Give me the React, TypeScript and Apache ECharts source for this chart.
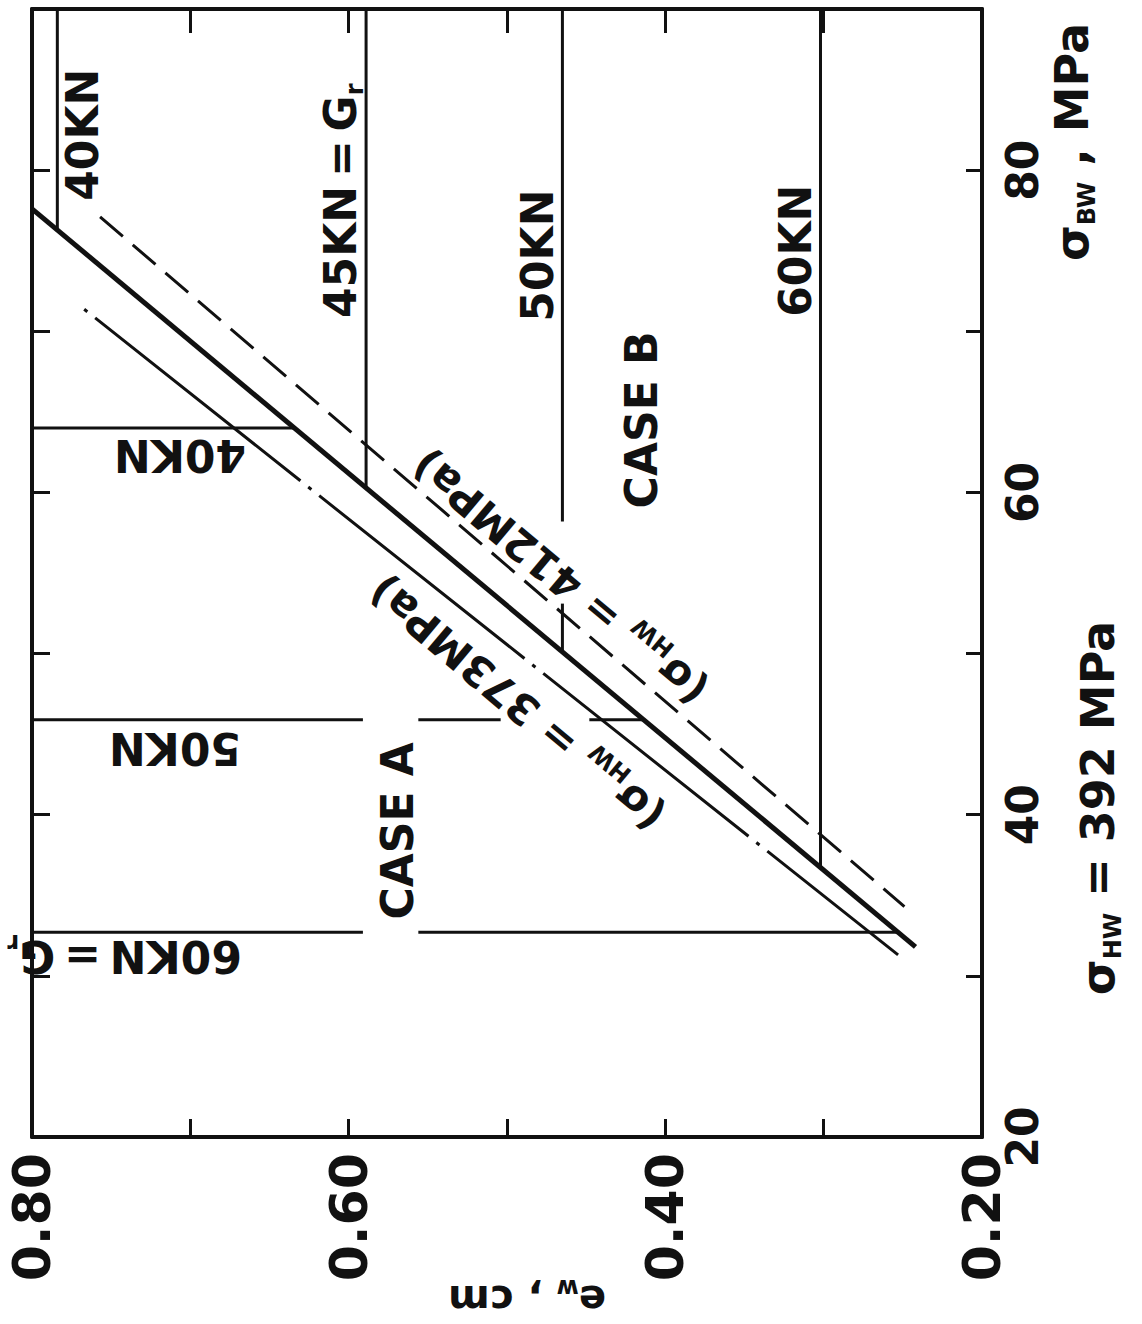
import React, { useEffect, useRef } from 'react';
import * as echarts from 'echarts';

// Axis ranges
const ewRange = [0.2, 0.8]; // e_w, cm (horizontal, decreasing to the right)
const sigmaRange = [20, 90]; // σBW, MPa (vertical)

// Inclined limit lines: [e_w, σBW]
const line392 = [[0.80, 77.6], [0.242, 31.8]];
const line412 = [[0.757, 77.1], [0.249, 34.3]];
const line373 = [[0.770, 71.6], [0.253, 31.3]];

// CASE B load lines (constant e_w)
const caseB40 = [[0.784, 90], [0.784, 76.3]];
const caseB45 = [[0.589, 90], [0.589, 60.3]];
const caseB50a = [[0.465, 90], [0.465, 58.2]];
const caseB50b = [[0.465, 53.1], [0.465, 50.1]];
const caseB60 = [[0.302, 90], [0.302, 36.8]];

// CASE A load lines (constant σBW)
const caseA40 = [[0.80, 64.0], [0.635, 64.0]];
const caseA50a = [[0.80, 45.9], [0.591, 45.9]];
const caseA50b = [[0.556, 45.9], [0.504, 45.9]];
const caseA50c = [[0.448, 45.9], [0.414, 45.9]];
const caseA60a = [[0.80, 32.7], [0.591, 32.7]];
const caseA60b = [[0.556, 32.7], [0.253, 32.7]];

// Annotations
const annotationTexts = [
  '40KN', '45KN\u2009=\u2009G{s|r}', '50KN', '60KN', 'CASE B', 'CASE A',
  '40KN', '50KN', '60KN\u2009=\u2009G{s|r}', '(σ{s|HW} = 412MPa)', '(σ{s|HW} = 373MPa)',
];
const annotationEw = [0.768, 0.605, 0.481, 0.318, 0.415, 0.569, 0.7065, 0.7097, 0.7415, 0.4665, 0.4936];
const annotationSigma = [82.2, 78.1, 74.7, 75.0, 64.5, 39.0, 62.3, 44.1, 31.2, 54.7, 46.9];
const annotationAngle = [90, 90, 90, 90, 90, 90, 180, 180, 180, 140, 140];

const INK = '#111';
const FONT = 'DejaVu Sans';

export default function App() {
  const ref = useRef<HTMLDivElement>(null);
  useEffect(() => {
    if (!ref.current) return;
    const chart = echarts.init(ref.current, undefined, { renderer: 'svg' });

    const seg = (data: number[][], width = 3) => ({
      type: 'line', data, symbol: 'none', silent: true,
      xAxisIndex: 0, yAxisIndex: 0,
      lineStyle: { color: INK, width, type: 'solid' },
    });

    const subRich = { s: { fontSize: 24, fontWeight: 'bold', fontFamily: FONT, color: INK, fill: INK, verticalAlign: 'bottom' } };

    const xLabelFmt = (v: number) => {
      const k = Math.round(v * 10);
      return k % 2 === 0 ? (k / 10).toFixed(2) : '';
    };
    const yLabelFmt = (v: number) => (Math.round(v) % 20 === 0 && v <= 80 ? String(Math.round(v)) : '');

    const axisLine = () => ({ show: true, onZero: false, lineStyle: { color: INK, width: 4 } });
    const tick = (length: number) => ({ show: true, inside: true, length, lineStyle: { color: INK, width: 3 } });

    const option: any = {
      animation: false,
      backgroundColor: '#fff',
      grid: { left: 32, top: 9, width: 950, height: 1128, outerBoundsMode: 'none' },
      xAxis: [
        {
          type: 'value', position: 'bottom', min: ewRange[0], max: ewRange[1], interval: 0.1, inverse: true,
          axisLine: axisLine(), splitLine: { show: false }, axisTick: tick(18),
          axisLabel: { rotate: 90, margin: 16, fontSize: 52, fontWeight: 'bold', fontFamily: FONT, color: INK, formatter: xLabelFmt },
        },
        {
          type: 'value', position: 'top', min: ewRange[0], max: ewRange[1], interval: 0.1, inverse: true,
          axisLine: axisLine(), splitLine: { show: false }, axisTick: tick(24), axisLabel: { show: false },
        },
      ],
      yAxis: [
        {
          type: 'value', position: 'right', min: sigmaRange[0], max: sigmaRange[1], interval: 10,
          axisLine: axisLine(), splitLine: { show: false }, axisTick: tick(16),
          axisLabel: { rotate: 90, margin: 18, fontSize: 44, fontWeight: 'bold', fontFamily: FONT, color: INK, formatter: yLabelFmt },
        },
        {
          type: 'value', position: 'left', min: sigmaRange[0], max: sigmaRange[1], interval: 10,
          axisLine: axisLine(), splitLine: { show: false }, axisTick: tick(18), axisLabel: { show: false },
        },
      ],
      series: [
        { ...seg(line392, 5) },
        {
          // drawn on the top/left frame axes (same ranges as the bottom/right axes)
          type: 'line', data: line412, symbol: 'none', silent: true, xAxisIndex: 1, yAxisIndex: 1,
          lineStyle: { color: INK, width: 3, type: [30, 13] },
        },
        {
          type: 'line', data: line373, symbol: 'none', silent: true, xAxisIndex: 0, yAxisIndex: 0,
          lineStyle: { color: INK, width: 3, type: [262, 10, 4, 10], dashOffset: 266 },
        },
        seg(caseB40), seg(caseB45), seg(caseB50a), seg(caseB50b), seg(caseB60),
        seg(caseA40), seg(caseA50a), seg(caseA50b), seg(caseA50c), seg(caseA60a), seg(caseA60b),
        {
          type: 'scatter', silent: true, xAxisIndex: 0, yAxisIndex: 0,
          symbolSize: 1, itemStyle: { color: 'rgba(0,0,0,0)', opacity: 1 },
          data: annotationTexts.map((t, i) => ({
            name: t,
            value: [annotationEw[i], annotationSigma[i]],
            label: { rotate: annotationAngle[i], fontSize: annotationAngle[i] === 140 ? 42 : 44 },
          })),
          label: {
            show: true, position: 'inside', formatter: (p: any) => p.name, opacity: 1,
            fontSize: 44, fontWeight: 'bold', fontFamily: FONT, color: INK, lineHeight: 52,
            textBorderWidth: 0, align: 'center', verticalAlign: 'middle', rich: subRich,
          },
        },
      ],
      graphic: [
        {
          type: 'text', x: 1072, y: 142, rotation: Math.PI / 2,
          style: {
            text: 'σ{s|BW} , MPa', fontSize: 46, fontWeight: 'bold', fontFamily: FONT, fill: INK,
            align: 'center', verticalAlign: 'middle', lineHeight: 54, rich: subRich,
          },
        },
        {
          type: 'text', x: 1098, y: 808, rotation: Math.PI / 2,
          style: {
            text: 'σ{s|HW} = 392 MPa', fontSize: 46, fontWeight: 'bold', fontFamily: FONT, fill: INK,
            align: 'center', verticalAlign: 'middle', lineHeight: 54, rich: subRich,
          },
        },
        {
          type: 'text', x: 527, y: 1300, rotation: Math.PI,
          style: {
            text: 'e{s|w} , cm', fontSize: 40, fontWeight: 'bold', fontFamily: FONT, fill: INK,
            align: 'center', verticalAlign: 'middle', lineHeight: 48, rich: subRich,
          },
        },
      ],
    };
    chart.setOption(option);
    return () => chart.dispose();
  }, []);
  return <div ref={ref} style={{ position: 'absolute', left: 0, top: 0, width: 1142, height: 1324 }} />;
}
